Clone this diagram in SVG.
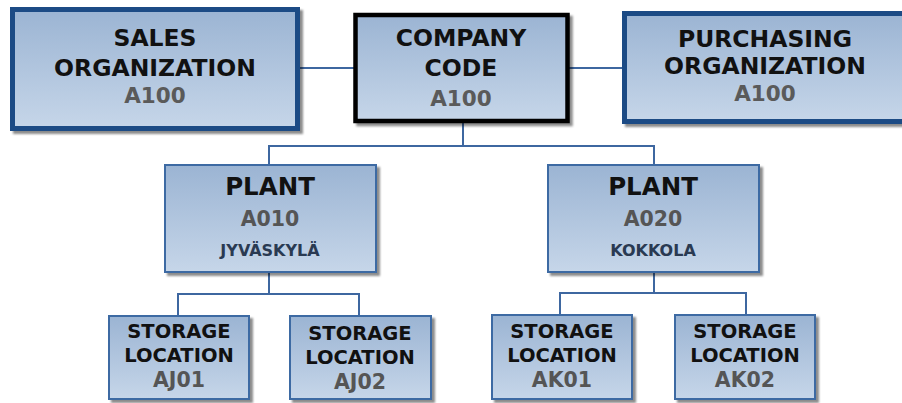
<svg xmlns="http://www.w3.org/2000/svg" width="902" height="403" viewBox="0 0 902 403">
  <defs>
    <linearGradient id="boxFill" x1="0" y1="0" x2="0" y2="1">
      <stop offset="0" stop-color="#9bb4d3"/>
      <stop offset="1" stop-color="#c6d6e9"/>
    </linearGradient>
    <filter id="shadow" x="-10%" y="-10%" width="130%" height="130%">
      <feDropShadow dx="3" dy="3" stdDeviation="1.2" flood-color="#000" flood-opacity="0.45"/>
    </filter>
    <style>
      .box { fill: url(#boxFill); filter: url(#shadow); }
      .heavy { stroke: #1f4c85; stroke-width: 5; }
      .black { stroke: #000; stroke-width: 4.5; }
      .thin { stroke: #3d6aa3; stroke-width: 2; }
      .conn { fill: none; stroke: #3e67a0; stroke-width: 2; }
      text { font-family: "DejaVu Sans", Verdana, sans-serif; font-weight: bold; text-anchor: middle; }
      .t { fill: #111; font-size: 23.5px; }
      .tp { fill: #111; font-size: 24.5px; }
      .ts { fill: #111; font-size: 19.5px; }
      .c { fill: #5a5a5a; font-size: 21.5px; }
      .cp { fill: #555; font-size: 20.5px; }
      .city { fill: #2a3a52; font-size: 16px; }
    </style>
  </defs>

  <!-- connectors -->
  <g id="connectors">
    <path class="conn" d="M300 68 H355"/>
    <path class="conn" d="M568 68 H624"/>
    <path class="conn" d="M463 123 V146 H269 V165"/>
    <path class="conn" d="M463 146 H654 V165"/>
    <path class="conn" d="M269 272 V294 H178 V315"/>
    <path class="conn" d="M269 294 H359 V315"/>
    <path class="conn" d="M654 272 V293 H560 V315"/>
    <path class="conn" d="M654 293 H746 V315"/>
  </g>

  <g id="sales-org">
    <rect class="box heavy" x="12.5" y="9.5" width="285" height="119"/>
    <text class="t" x="155" y="46">SALES</text>
    <text class="t" x="155" y="76">ORGANIZATION</text>
    <text class="c" x="155" y="103">A100</text>
  </g>

  <g id="company-code">
    <rect class="box black" x="355.5" y="15" width="212" height="106"/>
    <text class="t" x="461" y="46">COMPANY</text>
    <text class="t" x="461" y="76">CODE</text>
    <text class="c" x="461" y="106">A100</text>
  </g>

  <g id="purchasing-org">
    <rect class="box heavy" x="624.5" y="13.5" width="290" height="108"/>
    <text class="t" x="765" y="47">PURCHASING</text>
    <text class="t" x="765" y="74">ORGANIZATION</text>
    <text class="c" x="765" y="101">A100</text>
  </g>

  <g id="plant-a010">
    <rect class="box thin" x="165" y="165" width="211" height="107"/>
    <text class="tp" x="270" y="195">PLANT</text>
    <text class="cp" x="270" y="226">A010</text>
    <text class="city" x="270" y="256">JYVÄSKYLÄ</text>
  </g>

  <g id="plant-a020">
    <rect class="box thin" x="548" y="165" width="211" height="107"/>
    <text class="tp" x="653" y="195">PLANT</text>
    <text class="cp" x="653" y="226">A020</text>
    <text class="city" x="653" y="256">KOKKOLA</text>
  </g>

  <g id="storage-aj01">
    <rect class="box thin" x="109" y="316" width="140" height="83"/>
    <text class="ts" x="179" y="338">STORAGE</text>
    <text class="ts" x="179" y="362">LOCATION</text>
    <text class="cp" x="179" y="387">AJ01</text>
  </g>

  <g id="storage-aj02">
    <rect class="box thin" x="290" y="316" width="141" height="83"/>
    <text class="ts" x="360" y="340">STORAGE</text>
    <text class="ts" x="360" y="364">LOCATION</text>
    <text class="cp" x="360" y="389">AJ02</text>
  </g>

  <g id="storage-ak01">
    <rect class="box thin" x="492" y="315" width="140" height="84"/>
    <text class="ts" x="562" y="338">STORAGE</text>
    <text class="ts" x="562" y="362">LOCATION</text>
    <text class="cp" x="562" y="387">AK01</text>
  </g>

  <g id="storage-ak02">
    <rect class="box thin" x="675" y="315" width="140" height="84"/>
    <text class="ts" x="745" y="338">STORAGE</text>
    <text class="ts" x="745" y="362">LOCATION</text>
    <text class="cp" x="745" y="387">AK02</text>
  </g>
</svg>
